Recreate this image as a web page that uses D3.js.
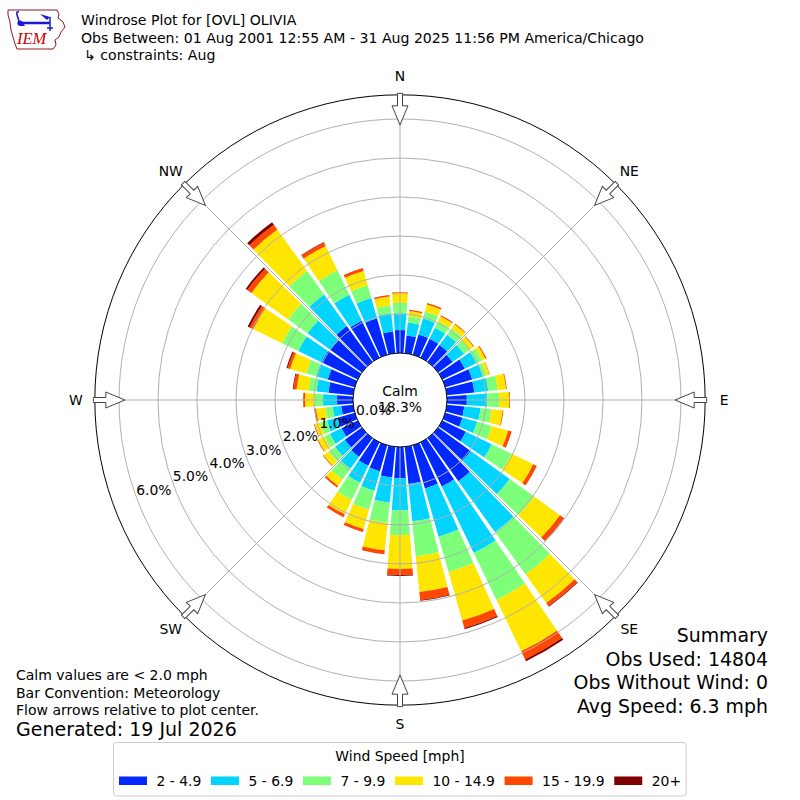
<!DOCTYPE html>
<html>
<head>
<meta charset="utf-8">
<script src="https://cdn.jsdelivr.net/npm/d3@7"></script>
<style>
  body { margin: 0; background: #fff; }
  svg { display: block; font-family: "DejaVu Sans", sans-serif; }
</style>
</head>
<body>
<svg id="chart" width="800" height="800"></svg>
<script>
const directions = [0, 10, 20, 30, 40, 50, 60, 70, 80, 90, 100, 110, 120, 130, 140, 150, 160, 170,
                    180, 190, 200, 210, 220, 230, 240, 250, 260, 270, 280, 290, 300, 310, 320, 330, 340, 350];

const speedBins = ["2 - 4.9", "5 - 6.9", "7 - 9.9", "10 - 14.9", "15 - 19.9", "20+"];
const binColors = ["#0028ff", "#00d4ff", "#7dff7a", "#ffe600", "#ff4700", "#800000"];

const spd2to5   = [0.59, 0.46, 0.54, 0.54, 0.53, 0.46, 0.64, 0.72, 0.71, 0.51, 0.45, 0.46, 0.67, 1.03, 1.36, 1.26, 1.15, 0.96,
                   0.80, 0.79, 0.69, 0.67, 0.59, 0.54, 0.46, 0.46, 0.31, 0.41, 0.64, 0.72, 1.03, 1.00, 1.13, 1.05, 0.97, 0.56];
const spd5to7   = [0.43, 0.33, 0.43, 0.31, 0.33, 0.36, 0.33, 0.28, 0.36, 0.52, 0.42, 0.39, 0.74, 1.23, 1.61, 1.89, 1.29, 0.96,
                   0.82, 0.65, 0.52, 0.48, 0.38, 0.31, 0.33, 0.28, 0.22, 0.36, 0.31, 0.31, 0.66, 0.72, 1.00, 0.74, 0.54, 0.47];
const spd7to10  = [0.27, 0.16, 0.18, 0.18, 0.19, 0.17, 0.16, 0.10, 0.24, 0.31, 0.28, 0.39, 0.56, 0.77, 1.34, 1.34, 0.94, 0.90,
                   0.64, 0.52, 0.51, 0.49, 0.34, 0.20, 0.16, 0.18, 0.18, 0.23, 0.20, 0.26, 0.46, 0.61, 0.74, 0.70, 0.34, 0.20];
const spd10to15 = [0.24, 0.14, 0.19, 0.15, 0.14, 0.13, 0.10, 0.08, 0.22, 0.26, 0.29, 0.44, 0.62, 0.82, 0.90, 1.46, 1.29, 0.92,
                   0.87, 0.71, 0.51, 0.41, 0.20, 0.16, 0.18, 0.15, 0.25, 0.23, 0.31, 0.43, 0.82, 1.16, 1.31, 0.69, 0.38, 0.23];
const spd15to20 = [0.03, 0.03, 0.04, 0.03, 0.02, 0.02, 0.03, 0.01, 0.02, 0.02, 0.02, 0.09, 0.10, 0.12, 0.10, 0.23, 0.20, 0.21,
                   0.15, 0.10, 0.08, 0.08, 0.05, 0.02, 0.02, 0.02, 0.04, 0.05, 0.08, 0.07, 0.11, 0.13, 0.15, 0.10, 0.08, 0.04];
const spd20plus = [0, 0, 0, 0, 0, 0, 0, 0, 0, 0, 0, 0, 0, 0.01, 0.02, 0.05, 0.03, 0.02,
                   0.03, 0, 0, 0, 0, 0, 0, 0, 0, 0, 0.02, 0.03, 0.05, 0.05, 0.08, 0.01, 0, 0];

const radialTicks = [0, 1, 2, 3, 4, 5, 6];
const compassLabels = ["N", "NE", "E", "SE", "S", "SW", "W", "NW"];
const compassAngles = [0, 45, 90, 135, 180, 225, 270, 315];
const calmPercent = 18.3;

const titleLines = [
  "Windrose Plot for [OVL] OLIVIA",
  "Obs Between: 01 Aug 2001 12:55 AM - 31 Aug 2025 11:56 PM America/Chicago",
  "\u21b3 constraints: Aug"
];
const noteLines = [
  "Calm values are < 2.0 mph",
  "Bar Convention: Meteorology",
  "Flow arrows relative to plot center."
];
const generatedText = "Generated: 19 Jul 2026";
const summaryLines = ["Summary", "Obs Used: 14804", "Obs Without Wind: 0", "Avg Speed: 6.3 mph"];

// ---- setup ----
const svg = d3.select("#chart");
const cx = 400, cy = 400;
const rad = d => d * Math.PI / 180;

const r = d3.scaleLinear().domain([0, 6]).range([47, 281]);
const outerR = r(6.62);
const calmR = r(0);

const binKeys = speedBins.map((_, i) => "b" + i);
const series = [spd2to5, spd5to7, spd7to10, spd10to15, spd15to20, spd20plus];
const rows = directions.map((dir, i) => {
  const row = { dir };
  series.forEach((s, k) => row[binKeys[k]] = s[i]);
  return row;
});
const stacked = d3.stack().keys(binKeys)(rows);
const color = d3.scaleOrdinal().domain(binKeys).range(binColors);

const plot = svg.append("g").attr("transform", `translate(${cx},${cy})`);

// bars
const halfWidth = 4.25;
const arc = d3.arc();
plot.append("g").selectAll("g")
  .data(stacked)
  .join("g")
  .attr("fill", d => color(d.key))
  .selectAll("path")
  .data(d => d)
  .join("path")
  .attr("d", d => arc({
    innerRadius: r(d[0]),
    outerRadius: r(d[1]),
    startAngle: rad(d.data.dir - halfWidth),
    endAngle: rad(d.data.dir + halfWidth)
  }));

// grid on top of the bars
const grid = plot.append("g").attr("fill", "none").attr("stroke", "#b0b0b0").attr("stroke-width", 1);
grid.selectAll("circle")
  .data(radialTicks.filter(t => t > 0))
  .join("circle")
  .attr("r", d => r(d));
grid.selectAll("line")
  .data(compassAngles)
  .join("line")
  .attr("x1", d => calmR * Math.sin(rad(d)))
  .attr("y1", d => -calmR * Math.cos(rad(d)))
  .attr("x2", d => outerR * Math.sin(rad(d)))
  .attr("y2", d => -outerR * Math.cos(rad(d)));

// calm circle and frame
plot.append("circle").attr("r", calmR).attr("fill", "#fff").attr("stroke", "#000").attr("stroke-width", 1);
plot.append("circle").attr("r", outerR).attr("fill", "none").attr("stroke", "#000").attr("stroke-width", 1);

// inward flow arrows
const tail = outerR + 1.5, neck = outerR - 11, tip = outerR - 30;
const arrowPath = `M-2.5,${-tail} L2.5,${-tail} L2.5,${-neck} L8,${-neck} L0,${-tip} L-8,${-neck} L-2.5,${-neck} Z`;
plot.append("g").selectAll("path")
  .data(compassAngles)
  .join("path")
  .attr("d", arrowPath)
  .attr("transform", d => `rotate(${d})`)
  .attr("fill", "#fff")
  .attr("stroke", "#444")
  .attr("stroke-width", 1)
  .attr("stroke-linejoin", "miter");

// compass labels
const labelR = outerR + 19;
plot.append("g").selectAll("text")
  .data(compassAngles)
  .join("text")
  .attr("x", d => labelR * Math.sin(rad(d)))
  .attr("y", d => -labelR * Math.cos(rad(d)) + 5)
  .attr("text-anchor", "middle")
  .attr("font-size", 13.9)
  .text((d, i) => compassLabels[i]);

// radial tick labels
const tickAngle = rad(250);
plot.append("g").selectAll("text")
  .data(radialTicks)
  .join("text")
  .attr("x", d => (r(d) - 19) * Math.sin(tickAngle))
  .attr("y", d => -(r(d) - 19) * Math.cos(tickAngle) + 5)
  .attr("text-anchor", "middle")
  .attr("font-size", 13.9)
  .text(d => d.toFixed(1) + "%");

// calm text
plot.append("text").attr("y", -4).attr("text-anchor", "middle").attr("font-size", 13.9).text("Calm");
plot.append("text").attr("y", 12).attr("text-anchor", "middle").attr("font-size", 13.9).text(calmPercent.toFixed(1) + "%");

// ---- titles ----
svg.append("g").selectAll("text")
  .data(titleLines)
  .join("text")
  .attr("x", (d, i) => i === 2 ? 84 : 81)
  .attr("y", (d, i) => 25 + i * 17.7)
  .attr("font-size", 14.1)
  .text(d => d);

// IEM logo
const logo = svg.append("g");
const iowa = [[8,10],[57,10],[59,14],[58,18],[63,22],[65,27],[61,32],[59,37],[55,40],[56,45],[53,49],
              [17,49],[15,44],[13,37],[11,30],[10,22],[8,15]];
logo.append("path").attr("d", d3.line()(iowa) + "Z").attr("fill", "none").attr("stroke", "#8b1a1a").attr("stroke-width", 1);
logo.append("path").attr("d", "M20,23 L50,23").attr("stroke", "#1a1ad6").attr("stroke-width", 2.5);
logo.append("circle").attr("cx", 20).attr("cy", 23).attr("r", 2.6).attr("fill", "#1a1ad6");
logo.append("path").attr("d", "M19,21 L17,15 Q16,11 19,12").attr("fill", "none").attr("stroke", "#1a1ad6").attr("stroke-width", 1.6);
logo.append("path").attr("d", "M40,14 L50,17 L47,20 Z").attr("fill", "#1a1ad6");
logo.append("path").attr("d", "M50,17 L50,31 M47,28 L53,28").attr("stroke", "#1a1ad6").attr("stroke-width", 1.5);
logo.append("path").attr("d", "M19,26 L22,21 L25,26 Z").attr("fill", "#1a1ad6");
logo.append("text").attr("x", 17).attr("y", 43.5)
  .attr("font-family", "'Liberation Serif', serif").attr("font-style", "italic")
  .attr("font-size", 16.5).attr("fill", "#cc0000").text("IEM");

// ---- notes and summary ----
svg.append("g").selectAll("text")
  .data(noteLines)
  .join("text")
  .attr("x", 16)
  .attr("y", (d, i) => 680 + i * 17.5)
  .attr("font-size", 14)
  .text(d => d);
svg.append("text").attr("x", 16).attr("y", 736).attr("font-size", 19).text(generatedText);

svg.append("g").selectAll("text")
  .data(summaryLines)
  .join("text")
  .attr("x", 768)
  .attr("y", (d, i) => 642 + i * 23.5)
  .attr("text-anchor", "end")
  .attr("font-size", 18.9)
  .text(d => d);

// ---- legend ----
const legend = svg.append("g");
const legendBox = legend.append("rect");
legend.append("text").attr("x", 400).attr("y", 761).attr("text-anchor", "middle")
  .attr("font-size", 13.9).text("Wind Speed [mph]");
let cur = 119;
speedBins.forEach((label, i) => {
  legend.append("rect").attr("x", cur).attr("y", 776.5).attr("width", 28).attr("height", 8.5).attr("fill", binColors[i]);
  const t = legend.append("text").attr("x", cur + 37.5).attr("y", 786).attr("font-size", 13.9).text(label);
  cur = cur + 37.5 + t.node().getComputedTextLength() + 9.7;
});
const itemsRight = cur - 9.7;
legendBox.attr("x", 113.5).attr("y", 742.5)
  .attr("width", itemsRight + 5 - 113.5).attr("height", 53.5)
  .attr("rx", 3).attr("fill", "#fff").attr("stroke", "#cccccc").attr("stroke-width", 1);
</script>
</body>
</html>
